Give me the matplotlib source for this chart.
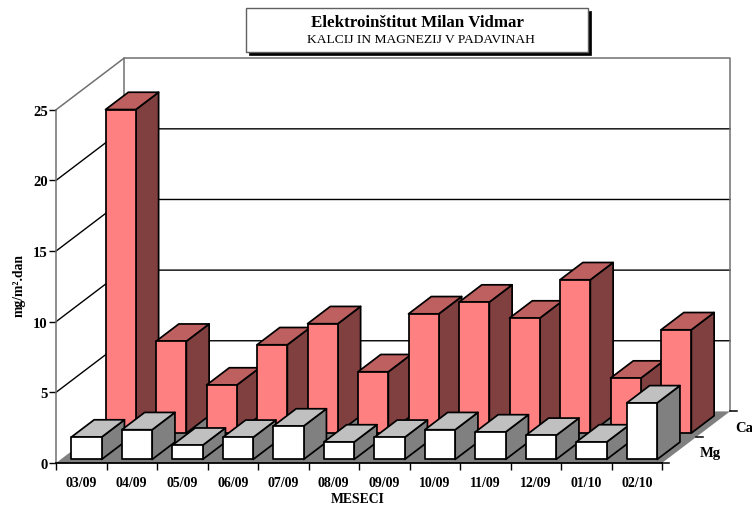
import matplotlib
matplotlib.use("Agg")
from matplotlib import pyplot as plt
from matplotlib.patches import Polygon, Rectangle

plt.rcParams['font.family'] = ['Liberation Serif', 'DejaVu Serif']

months = ["03/09", "04/09", "05/09", "06/09", "07/09", "08/09",
          "09/09", "10/09", "11/09", "12/09", "01/10", "02/10"]
ca = [22.9, 6.5, 3.4, 6.25, 7.74, 4.34, 8.44, 9.27, 8.14, 10.85, 3.89, 7.31]
mg = [1.58, 2.1, 1.0, 1.56, 2.36, 1.23, 1.56, 2.1, 1.94, 1.7, 1.23, 4.0]
yticks = [0, 5, 10, 15, 20, 25]
row_names = ["Ca", "Mg"]

W, H = 752, 506
x0, x1 = 56, 662
y0, ytop = 464, 110.8
fig = plt.figure(figsize=(W / 100, H / 100), dpi=100)
ax = fig.add_axes([x0 / W, 1 - y0 / H, (x1 - x0) / W, (y0 - ytop) / H])
ax.set_xlim(0, 12)
ax.set_ylim(0, 25)

# oblique depth, d=0 front of floor, d=1 back wall
DX = 68 / ((x1 - x0) / 12)
DY = 51.6 / ((y0 - ytop) / 25)

def pt(x, v, d):
    return (x + d * DX, v + d * DY)

def box(x, w, val, d0, d1, colors, z):
    face, top, side = colors
    a = [pt(x, 0, d0), pt(x + w, 0, d0), pt(x + w, val, d0), pt(x, val, d0)]
    b = [pt(x, val, d0), pt(x + w, val, d0), pt(x + w, val, d1), pt(x, val, d1)]
    c = [pt(x + w, 0, d0), pt(x + w, 0, d1), pt(x + w, val, d1), pt(x + w, val, d0)]
    for verts, col in ((c, side), (b, top), (a, face)):
        ax.add_patch(Polygon(verts, closed=True, facecolor=col, edgecolor='black',
                             linewidth=1.25, joinstyle='round', zorder=z, clip_on=False))

# floor
ax.add_patch(Polygon([pt(0, 0, 0), pt(12, 0, 0), pt(12, 0, 1), pt(0, 0, 1)],
                     facecolor='#808080', edgecolor='none', zorder=1, clip_on=False))

# walls
grey = '#707070'
for v in yticks[1:-1]:
    ax.plot(*zip(pt(0, v, 0), pt(0, v, 1), pt(12, v, 1)), color='black', lw=1.0,
            zorder=1.5, clip_on=False)
ax.plot(*zip(pt(0, 0, 1), pt(0, 25, 1), pt(12, 25, 1), pt(12, 0, 1)), color=grey, lw=1.1,
        zorder=1.5, clip_on=False)
ax.plot(*zip(pt(0, 25, 0), pt(0, 25, 1)), color=grey, lw=1.1, zorder=1.5, clip_on=False)

# bars, back row first
for i, v in enumerate(ca):
    box(i + 0.2, 0.6, v, 0.58, 0.915, ('#FF8080', '#BF6060', '#804040'), 2 + i * 0.01)
for i, v in enumerate(mg):
    box(i + 0.21, 0.6, v, 0.07, 0.405, ('white', '#C0C0C0', '#808080'), 3 + i * 0.01)

# depth ticks on the right
for d in [0, 0.5, 1]:
    p = pt(12, 0, d)
    ax.plot([p[0], p[0] + 0.14], [p[1], p[1]], color='black', lw=1.1, zorder=4, clip_on=False)
for name, d in zip(row_names, [0.75, 0.25]):
    p = pt(12, 0, d)
    ax.text(p[0] + 0.62, p[1] - 0.2, name, fontsize=10.5, fontweight='bold',
            ha='center', va='center', clip_on=False)

# axes
for s in ['top', 'right']:
    ax.spines[s].set_visible(False)
ax.spines['left'].set_color(grey)
ax.spines['left'].set_linewidth(1.1)
ax.spines['bottom'].set_linewidth(1.3)
ax.spines['bottom'].set_zorder(5)
ax.patch.set_alpha(0)
ax.set_yticks(yticks)
ax.set_xticks(range(13))
ax.set_xticklabels([])
ax.set_xticks([i + 0.5 for i in range(12)], labels=months, minor=True)
ax.tick_params(axis='x', which='major', length=5, width=1.0)
ax.tick_params(axis='x', which='minor', length=0, pad=9.5)
ax.tick_params(axis='y', length=5, width=1.0, pad=1)
for t in ax.get_xticklabels(minor=True):
    t.set_fontsize(10)
    t.set_fontweight('bold')
for t in ax.get_yticklabels():
    t.set_fontsize(10.5)
    t.set_fontweight('bold')

fig.text(358 / W, 1 - 500 / H, "MESECI", fontsize=9.8, fontweight='bold', ha='center', va='center')
fig.text(19 / W, 1 - 286 / H, "mg/m².dan", fontsize=9.8, fontweight='bold', rotation=90,
         ha='center', va='center')

# title box
bx, by, bw, bh = 246, 9, 342, 44
fig.add_artist(Rectangle(((bx + 2.5) / W, 1 - (by + bh + 2.5) / H), bw / W, bh / H, transform=fig.transFigure,
                         facecolor='black', edgecolor='black', lw=0.5))
fig.add_artist(Rectangle((bx / W, 1 - (by + bh) / H), bw / W, bh / H, transform=fig.transFigure,
                         facecolor='white', edgecolor='#606060', lw=1.0))
fig.text(417 / W, 1 - 23 / H, "Elektroinštitut Milan Vidmar", fontsize=12.2, fontweight='bold',
         ha='center', va='center')
fig.text(421 / W, 1 - 40 / H, "KALCIJ IN MAGNEZIJ V PADAVINAH", fontsize=9.7, ha='center', va='center')

fig.savefig("out.png", dpi=100)
